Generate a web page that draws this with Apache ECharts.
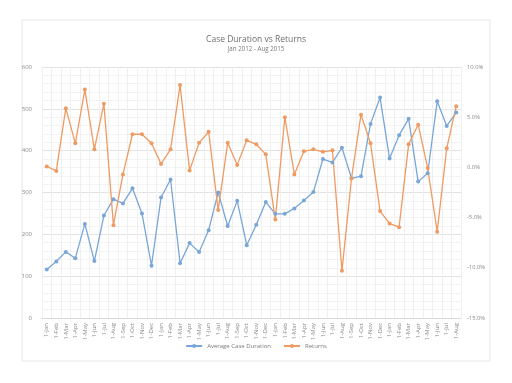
<!DOCTYPE html>
<html><head><meta charset="utf-8">
<script src="https://cdn.jsdelivr.net/npm/echarts@6/dist/echarts.min.js"></script>
<style>html,body{margin:0;padding:0;background:#fff}#c{width:512px;height:383px}</style>
</head><body><div id="c"></div>
<script>
const monthNames = ['Jan','Feb','Mar','Apr','May','Jun','Jul','Aug','Sep','Oct','Nov','Dec'];
const categories = [];
for (let y = 2012; y <= 2015; y++) for (let m = 0; m < 12; m++) { if (y === 2015 && m > 7) break; categories.push('1-' + monthNames[m]); }
const caseDuration = [116,135,158,143,225,136,245,284,274,310,250,125,288,331,131,179,158,210,300,220,280,174,223,277,249,249,262,281,301,380,372,407,334,339,464,527,381,437,476,326,346,518,459,491];
const returnsPct = [0.1,-0.35,5.9,2.4,7.75,1.8,6.35,-5.75,-0.7,3.3,3.3,2.4,0.35,1.8,8.2,-0.3,2.45,3.55,-4.25,2.45,0.25,2.7,2.3,1.3,-5.2,5.0,-0.7,1.6,1.8,1.55,1.7,-10.3,-1.1,5.25,2.4,-4.35,-5.6,-5.95,2.3,4.25,-0.05,-6.4,1.9,6.1];
const leftTicks = [0,600,100];
const rightTicks = [-15,10,5];

const chart = echarts.init(document.getElementById('c'));
const grey = '#8a8a8a';
chart.setOption({
  animation:false,
  title:{text:'Case Duration vs Returns', subtext:'Jan 2012 - Aug 2015', left:'center', top:30, itemGap:2,
    textStyle:{fontSize:8.5,fontWeight:'normal',color:'#6e6e6e',fontFamily:'Open Sans'},
    subtextStyle:{fontSize:6.2,color:'#7a7a7a',fontFamily:'Open Sans'}},
  legend:{bottom:29, left:'center', itemWidth:16, itemHeight:5, itemGap:12,
    textStyle:{fontSize:6,color:'#7a7a7a',fontFamily:'Open Sans'}},
  grid:{left:42, right:51, top:67, bottom:65},
  graphic:[{type:'rect', shape:{x:22,y:20,width:468,height:341}, style:{fill:'none',stroke:'#e6e6e6',lineWidth:1}, z:-1}],
  xAxis:{type:'category', data:categories, boundaryGap:true,
    axisLine:{lineStyle:{color:'#d9d9d9'}}, axisTick:{show:false},
    axisLabel:{rotate:90, interval:0, fontSize:6, color:grey, margin:5, fontFamily:'Open Sans'},
    splitLine:{show:true, interval:0, lineStyle:{color:'#f0f0f0'}}},
  yAxis:[
    {type:'value', min:leftTicks[0], max:leftTicks[1], interval:leftTicks[2],
      axisLabel:{fontSize:6,color:grey,margin:10,fontFamily:'Open Sans'}, axisLine:{show:false}, axisTick:{show:false},
      splitLine:{lineStyle:{color:'#e3e3e3'}},
      minorTick:{show:false, splitNumber:5}, minorSplitLine:{show:true, lineStyle:{color:'#f3f3f3'}}},
    {type:'value', min:rightTicks[0], max:rightTicks[1], interval:rightTicks[2],
      axisLabel:{fontSize:5.8,color:grey,margin:6,fontFamily:'Open Sans', formatter:v=>v.toFixed(1)+'%'},
      axisLine:{show:false}, axisTick:{show:false}, splitLine:{show:false}}
  ],
  series:[
    {name:'Average Case Duration', type:'line', data:caseDuration, yAxisIndex:0, symbol:'circle', symbolSize:4,
      lineStyle:{color:'#79a6d8', width:1.3}, itemStyle:{color:'#79a6d8'}},
    {name:'Returns', type:'line', data:returnsPct, yAxisIndex:1, symbol:'circle', symbolSize:4,
      lineStyle:{color:'#ef9a62', width:1.3}, itemStyle:{color:'#ef9a62'}}
  ]
});
</script></body></html>
